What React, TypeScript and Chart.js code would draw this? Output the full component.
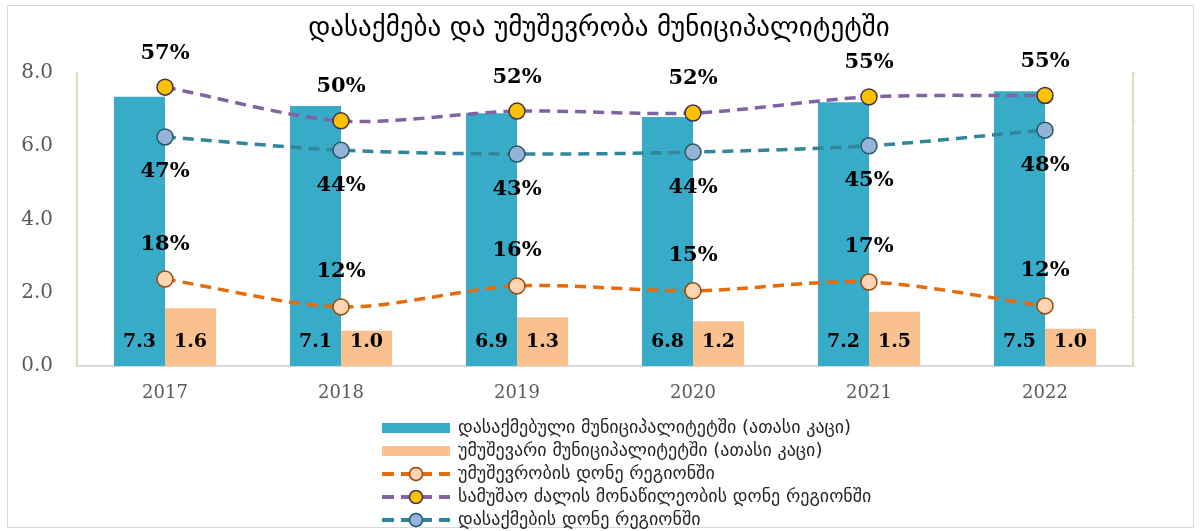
import React, { useEffect, useRef } from "react";
import { Chart, registerables } from "chart.js";

Chart.register(...registerables);

const years = ["2017", "2018", "2019", "2020", "2021", "2022"];
const employed = [7.35, 7.1, 6.9, 6.8, 7.2, 7.5];
const unemployed = [1.58, 0.96, 1.33, 1.22, 1.48, 1.02];
const unemploymentRate = [0.178, 0.121, 0.164, 0.154, 0.172, 0.123];
const participationRate = [0.571, 0.502, 0.522, 0.518, 0.551, 0.554];
const employmentRate = [0.469, 0.442, 0.434, 0.438, 0.451, 0.483];
const yTicks = [0, 2, 4, 6, 8];

const titleText = "დასაქმება და უმუშევრობა მუნიციპალიტეტში";
const legendLabels = [
  "დასაქმებული მუნიციპალიტეტში (ათასი კაცი)",
  "უმუშევარი მუნიციპალიტეტში (ათასი კაცი)",
  "უმუშევრობის დონე რეგიონში",
  "სამუშაო ძალის მონაწილეობის დონე რეგიონში",
  "დასაქმების დონე რეგიონში",
];

const BLUE = "#38abc8";
const PEACH = "#fac090";
const ORANGE = "#e46c0a";
const PURPLE = "#8064a2";
const TEAL = "#31859c";

const labelOffsets: Record<number, number> = { 2: -35, 3: -34, 4: 35 };

const overlayPlugin = {
  id: "overlay",
  afterDatasetsDraw(chart: any) {
    const ctx = chart.ctx;
    ctx.save();
    ctx.fillStyle = "#000";
    ctx.textAlign = "center";
    ctx.textBaseline = "middle";
    chart.data.datasets.forEach((ds: any, i: number) => {
      const meta = chart.getDatasetMeta(i);
      meta.data.forEach((el: any, j: number) => {
        const v = ds.data[j];
        if (ds.type === "bar") {
          ctx.font = "bold 19px 'DejaVu Serif'";
          ctx.fillText(v.toFixed(1), el.x, el.base - 24);
        } else {
          ctx.font = "bold 21px 'DejaVu Serif'";
          ctx.fillText(Math.round(v * 100) + "%", el.x, el.y + labelOffsets[i]);
        }
      });
    });
    ctx.restore();
  },
  afterDraw(chart: any) {
    const ctx = chart.ctx;
    ctx.save();
    // title
    ctx.font = "27px 'DejaVu Sans'";
    ctx.fillStyle = "#000";
    ctx.textAlign = "center";
    ctx.textBaseline = "middle";
    ctx.fillText(titleText, 599, 29);
    // legend
    [0, 1, 2, 3, 4].forEach((di, row) => {
      const ds = chart.data.datasets[di];
      const y = 428 + row * 23;
      const x0 = 382;
      const x1 = 450;
      if (ds.type === "bar") {
        ctx.fillStyle = ds.backgroundColor;
        ctx.fillRect(x0, y - 5, x1 - x0, 10);
      } else {
        ctx.strokeStyle = ds.borderColor;
        ctx.lineWidth = 4;
        ctx.setLineDash([12, 7]);
        ctx.beginPath();
        ctx.moveTo(x0, y);
        ctx.lineTo(x1, y);
        ctx.stroke();
        ctx.setLineDash([]);
        ctx.beginPath();
        ctx.arc(416, y, 6.5, 0, Math.PI * 2);
        ctx.fillStyle = ds.pointBackgroundColor;
        ctx.fill();
        ctx.lineWidth = 1.5;
        ctx.strokeStyle = ds.pointBorderColor;
        ctx.stroke();
      }
      ctx.font = "18px 'DejaVu Sans'";
      ctx.fillStyle = "#262626";
      ctx.textAlign = "left";
      ctx.textBaseline = "middle";
      ctx.fillText(legendLabels[di], 458, y);
    });
    ctx.restore();
  },
};

export default function App() {
  const ref = useRef<HTMLCanvasElement | null>(null);
  useEffect(() => {
    if (!ref.current) return;
    const lineCommon = {
      type: "line" as const,
      yAxisID: "y1",
      borderWidth: 3.5,
      borderDash: [11, 7],
      tension: 0.3,
      pointRadius: 8,
      pointBorderWidth: 1.5,
      order: 0,
      fill: false,
    };
    const chart = new Chart(ref.current, {
      type: "bar",
      data: {
        labels: years,
        datasets: [
          {
            type: "bar",
            label: legendLabels[0],
            data: employed,
            backgroundColor: BLUE,
            yAxisID: "y",
            order: 1,
            barPercentage: 1,
            categoryPercentage: 0.58,
          } as any,
          {
            type: "bar",
            label: legendLabels[1],
            data: unemployed,
            backgroundColor: PEACH,
            yAxisID: "y",
            order: 1,
            barPercentage: 1,
            categoryPercentage: 0.58,
          } as any,
          {
            ...lineCommon,
            label: legendLabels[2],
            data: unemploymentRate,
            borderColor: ORANGE,
            pointBackgroundColor: "#fcd5b5",
            pointBorderColor: "#984807",
          } as any,
          {
            ...lineCommon,
            label: legendLabels[3],
            data: participationRate,
            borderColor: PURPLE,
            pointBackgroundColor: "#ffc000",
            pointBorderColor: "#3f3151",
          } as any,
          {
            ...lineCommon,
            label: legendLabels[4],
            data: employmentRate,
            borderColor: TEAL,
            pointBackgroundColor: "#95b3d7",
            pointBorderColor: "#215968",
          } as any,
        ],
      },
      options: {
        responsive: false,
        animation: false,
        layout: { padding: { top: 73, left: 0, right: 0, bottom: 0 } },
        plugins: {
          legend: { display: false },
          title: { display: false },
          tooltip: { enabled: false },
        },
        scales: {
          x: {
            grid: { display: false, drawTicks: false },
            border: { display: true, color: "#d9d9d9", width: 2 },
            ticks: {
              color: "#595959",
              font: { family: "'DejaVu Serif'", size: 18 },
              padding: 17,
            },
            afterFit(scale: any) {
              scale.height = 165;
            },
          },
          y: {
            position: "left",
            min: 0,
            max: 8,
            afterBuildTicks(scale: any) {
              scale.ticks = yTicks.map((v) => ({ value: v }));
            },
            grid: { display: false, drawTicks: false },
            border: { display: true, color: "#ddd9c3", width: 2 },
            ticks: {
              color: "#595959",
              font: { family: "'DejaVu Serif'", size: 20 },
              padding: 24,
              callback: (v: any) => Number(v).toFixed(1),
            },
            afterFit(scale: any) {
              scale.width = 77;
            },
          },
          y1: {
            position: "right",
            min: 0,
            max: 0.6,
            ticks: { display: false, stepSize: 0.1 },
            grid: {
              display: true,
              drawOnChartArea: false,
              drawTicks: true,
              tickLength: 3,
              color: "#e8e5d5",
            },
            border: { display: true, color: "#ddd9c3", width: 2 },
            afterFit(scale: any) {
              scale.width = 67;
            },
          },
        },
      },
      plugins: [overlayPlugin],
    });
    return () => chart.destroy();
  }, []);

  return (
    <div style={{ position: "fixed", left: 0, top: 0, width: 1200, height: 531, background: "#fff" }}>
      <div
        style={{
          position: "absolute",
          left: 7,
          top: 5,
          width: 1185,
          height: 521,
          border: "1px solid #d9d9d9",
        }}
      />
      <canvas
        ref={ref}
        width={1200}
        height={531}
        style={{ position: "absolute", left: 0, top: 0, width: 1200, height: 531 }}
      />
    </div>
  );
}
